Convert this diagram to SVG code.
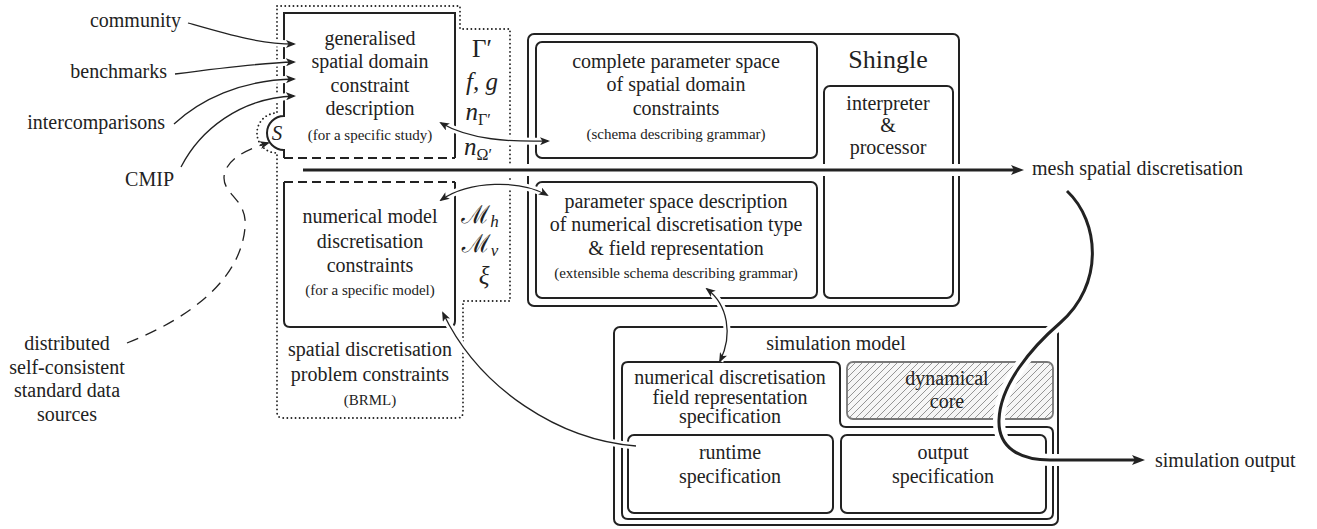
<svg xmlns="http://www.w3.org/2000/svg" width="1317" height="529" viewBox="0 0 1317 529">
<style>
text{font-family:"Liberation Serif","Times New Roman",Times,"Tinos","Noto Serif","DejaVu Serif",serif;fill:#222;}
.t{font-size:20px;text-anchor:middle;}
.s{font-size:15px;text-anchor:middle;}
.l{font-size:20px;}
.m{font-size:25px;text-anchor:middle;font-style:italic;}
.box{fill:none;stroke:#222;stroke-width:2;}
.dash{fill:none;stroke:#222;stroke-width:2;stroke-dasharray:9 5;}
.dot{fill:none;stroke:#222;stroke-width:1.8;stroke-dasharray:0.1 4;stroke-linecap:round;}
.c{fill:none;stroke:#222;stroke-width:1.3;}
.halo{fill:none;stroke:#fff;stroke-width:7;}
.thick{fill:none;stroke:#222;stroke-width:3;}
.thalo{fill:none;stroke:#fff;stroke-width:12;}
</style>
<defs>
<marker id="ah" viewBox="0 0 10 8" refX="8" refY="4" markerWidth="10" markerHeight="8" markerUnits="userSpaceOnUse" orient="auto-start-reverse">
<path d="M0,0 L10,4 L0,8 L2.5,4 z" fill="#222"/>
</marker>
<marker id="big" viewBox="0 0 13 10" refX="4" refY="5" markerWidth="13" markerHeight="10" markerUnits="userSpaceOnUse" orient="auto">
<path d="M0,0 L13,5 L0,10 L3,5 z" fill="#222"/>
</marker>
<pattern id="hatch" width="7" height="7" patternUnits="userSpaceOnUse">
<path d="M-1,8 L8,-1 M-1,1 L1,-1 M6,8 L8,6" stroke="#8a8a8a" stroke-width="0.9"/>
</pattern>
</defs>

<g id="labels-left">
<text class="l" x="181" y="27" text-anchor="end">community</text>
<text class="l" x="167" y="78" text-anchor="end">benchmarks</text>
<text class="l" x="165" y="129" text-anchor="end">intercomparisons</text>
<text class="l" x="174" y="186" text-anchor="end">CMIP</text>
</g>
<g id="data-sources">
<text class="t" x="67" y="350">distributed</text>
<text class="t" x="67" y="374">self-consistent</text>
<text class="t" x="67" y="397">standard data</text>
<text class="t" x="67" y="421">sources</text>
</g>

<g id="brml">
<path class="dot" d="M277 6 H460 V29 H510 V301 H463 V412 Q463 418 457 418 H283 Q277 418 277 412 V153 A20 20 0 0 1 277 113 Z"/>
<text class="t" x="370" y="356">spatial discretisation</text>
<text class="t" x="370" y="381">problem constraints</text>
<text class="s" x="370" y="405">(BRML)</text>
</g>

<g id="spatial-constraints">
<path class="box" d="M455 158 V13 H284 V116 A17 17 0 0 0 284 150 V158"/>
<path class="dash" d="M284 158 H455"/>
<text class="t" x="370" y="45">generalised</text>
<text class="t" x="370" y="68">spatial domain</text>
<text class="t" x="370" y="92">constraint</text>
<text class="t" x="370" y="115">description</text>
<text class="s" x="370" y="140">(for a specific study)</text>
<text x="277" y="140" style="font-size:21px;font-style:italic;text-anchor:middle">S</text>
<text class="m" x="482" y="57" style="font-style:normal">Γ′</text>
<text class="m" x="482" y="90">f, g</text>
<text class="m" x="478" y="120">n<tspan style="font-size:16px;font-style:normal" dy="5">Γ′</tspan></text>
<text class="m" x="478" y="155">n<tspan style="font-size:16px;font-style:normal" dy="5">Ω′</tspan></text>
</g>

<g id="model-constraints">
<path class="box" d="M284 182 V321 Q284 327 290 327 H449 Q455 327 455 321 V182"/>
<path class="dash" d="M284 182 H455"/>
<text class="t" x="370" y="223">numerical model</text>
<text class="t" x="370" y="248">discretisation</text>
<text class="t" x="370" y="272">constraints</text>
<text class="s" x="370" y="295">(for a specific model)</text>
<text class="m" x="480" y="223">ℳ<tspan style="font-size:17px" dy="4">h</tspan></text>
<text class="m" x="480" y="252">ℳ<tspan style="font-size:17px" dy="4">v</tspan></text>
<text class="m" x="484" y="284">ξ</text>
</g>

<g id="shingle">
<rect class="box" x="528" y="34" width="431" height="272" rx="6"/>
<text x="888" y="68" style="font-size:26px;text-anchor:middle">Shingle</text>
</g>
<g id="complete-space">
<rect class="box" x="536" y="42" width="281" height="116" rx="6"/>
<text class="t" x="676" y="68">complete parameter space</text>
<text class="t" x="676" y="91">of spatial domain</text>
<text class="t" x="676" y="115">constraints</text>
<text class="s" x="676" y="139">(schema describing grammar)</text>
</g>
<g id="numerical-space">
<rect class="box" x="536" y="182" width="281" height="116" rx="6"/>
<text class="t" x="676" y="208">parameter space description</text>
<text class="t" x="676" y="231">of numerical discretisation type</text>
<text class="t" x="676" y="255">&amp; field representation</text>
<text class="s" x="676" y="278">(extensible schema describing grammar)</text>
</g>
<g id="interpreter">
<rect class="box" x="824" y="86" width="129" height="212" rx="6"/>
<text class="t" x="888" y="110">interpreter</text>
<text class="t" x="888" y="132">&amp;</text>
<text class="t" x="888" y="154">processor</text>
</g>

<g id="simulation-model">
<rect class="box" x="614" y="327" width="444" height="198" rx="6"/>
<text class="t" x="836" y="350">simulation model</text>
</g>
<g id="numerical-spec">
<path class="box" d="M622 368 Q622 362 628 362 H834 Q840 362 840 368 V421 Q840 427 846 427 H1047 Q1053 427 1053 433 V513 Q1053 519 1047 519 H628 Q622 519 622 513 Z"/>
<text class="t" x="730" y="384">numerical discretisation</text>
<text class="t" x="730" y="403.5">field representation</text>
<text class="t" x="730" y="423">specification</text>
</g>
<g id="dynamical-core">
<rect x="847" y="362" width="206" height="57" rx="6" fill="#f6f6f6"/>
<rect x="847" y="362" width="206" height="57" rx="6" fill="url(#hatch)" stroke="#777" stroke-width="1.8"/>
<text class="t" x="947" y="385">dynamical</text>
<text class="t" x="947" y="408">core</text>
</g>
<g id="runtime-spec">
<rect class="box" x="628" y="435" width="205" height="78" rx="6"/>
<text class="t" x="730" y="459">runtime</text>
<text class="t" x="730" y="483">specification</text>
</g>
<g id="output-spec">
<rect class="box" x="841" y="435" width="205" height="78" rx="6"/>
<text class="t" x="943" y="459">output</text>
<text class="t" x="943" y="483">specification</text>
</g>

<g id="outputs">
<text class="l" x="1032" y="175">mesh spatial discretisation</text>
<text class="l" x="1155" y="467">simulation output</text>
</g>

<g id="connectors">
<path class="halo" d="M188 23 C230 35 260 44 296 44"/>
<path class="c" marker-end="url(#ah)" d="M188 23 C230 35 260 44 294 44"/>
<path class="halo" d="M175 74 C220 68 260 63 296 62"/>
<path class="c" marker-end="url(#ah)" d="M175 74 C220 68 260 63 294 62"/>
<path class="halo" d="M174 124 C200 100 240 80 296 79"/>
<path class="c" marker-end="url(#ah)" d="M174 124 C200 100 240 80 294 79"/>
<path class="halo" d="M181 167 C200 130 240 98 296 96"/>
<path class="c" marker-end="url(#ah)" d="M181 167 C200 130 240 98 294 96"/>

<path fill="none" stroke="#222" stroke-width="1.3" stroke-dasharray="12 8" marker-end="url(#ah)" d="M127 343 C190 318 240 280 245 228 C248 200 224 195 224 178 C224 162 243 150 268 143"/>

<path class="halo" d="M441 123 C470 140 510 142 548 141"/>
<path class="c" marker-start="url(#ah)" marker-end="url(#ah)" d="M441 123 C470 140 510 142 548 141"/>
<path class="halo" d="M441 200 C470 180 520 180 547 195"/>
<path class="c" marker-start="url(#ah)" marker-end="url(#ah)" d="M441 200 C470 180 520 180 547 195"/>
<path class="halo" d="M707 289 C728 305 733 335 720 361"/>
<path class="c" marker-start="url(#ah)" marker-end="url(#ah)" d="M707 289 C728 305 733 335 720 361"/>
<path class="halo" d="M636 446 C560 440 480 390 443 313"/>
<path class="c" marker-end="url(#ah)" d="M636 446 C560 440 480 390 443 313"/>

<path class="thalo" d="M303 170 H1015"/>
<path class="thick" marker-end="url(#big)" d="M303 170 H1015"/>
<path class="thalo" d="M1067 191 C1100 222 1104 285 1060 323 C1031 348 1000 385 999 420 C998 448 1020 460 1050 460 L1136 460"/>
<path class="thick" marker-end="url(#big)" d="M1067 191 C1100 222 1104 285 1060 323 C1031 348 1000 385 999 420 C998 448 1020 460 1050 460 L1136 460"/>
</g>
</svg>
